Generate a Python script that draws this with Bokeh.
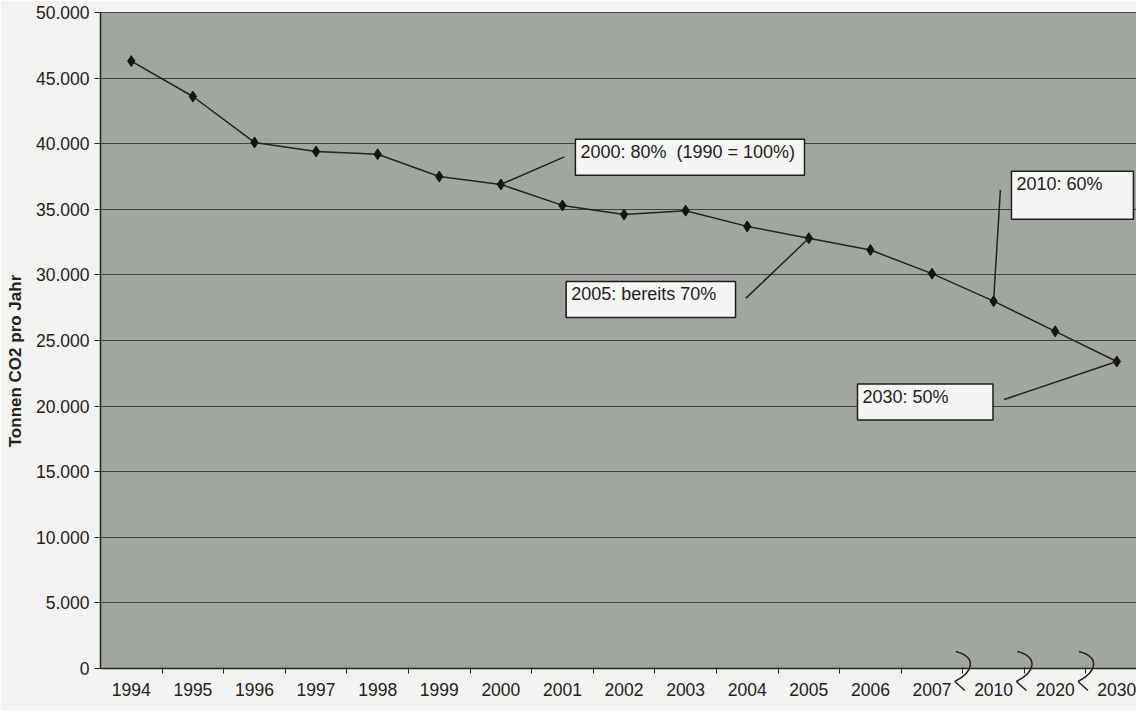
from bokeh.plotting import figure
from bokeh.models import Range1d, FixedTicker, BoxAnnotation
from bokeh.core.properties import value
from bokeh.embed import file_html
from bokeh.resources import INLINE

# ---- data ----
years = ["1994", "1995", "1996", "1997", "1998", "1999", "2000", "2001", "2002",
         "2003", "2004", "2005", "2006", "2007", "2010", "2020", "2030"]
co2 = [46300, 43600, 40100, 39400, 39200, 37500, 36900, 35300, 34600,
       34900, 33700, 32800, 31900, 30100, 28000, 25700, 23400]
y_ticks = [0, 5000, 10000, 15000, 20000, 25000, 30000, 35000, 40000, 45000, 50000]
y_tick_labels = ["0", "5.000", "10.000", "15.000", "20.000", "25.000", "30.000",
                 "35.000", "40.000", "45.000", "50.000"]
# axis breaks between these categories
break_after = ["2007", "2010", "2020"]

# annotations
ann_text = ["2000: 80%\u00a0 (1990 = 100%)", "2005: bereits 70%", "2010: 60%", "2030: 50%"]
ann_year = ["2000", "2005", "2010", "2030"]
ann_left = [7.21, 7.06, 14.29, 11.79]
ann_right = [10.93, 9.81, 16.27, 13.99]
ann_top = [40340, 29500, 37900, 21690]
ann_bottom = [37590, 26750, 34250, 18940]
lead_x = [7.03, 9.98, 14.11, 14.17]
lead_y = [39000, 28230, 36480, 20500]

FONT = "Liberation Sans"
W, H = 1136, 710
X0, X1 = -0.5, 16.32
Y0, Y1 = -3200, 50080

xs = list(range(len(years)))

p = figure(width=W, height=H, output_backend="svg", toolbar_location=None,
           x_range=Range1d(X0, X1), y_range=Range1d(Y0, Y1),
           min_border_left=100, min_border_right=0, min_border_top=11,
           min_border_bottom=0)
p.background_fill_color = "#f3f3f1"
p.border_fill_color = "#f3f3f1"
p.outline_line_color = None

# gray plot area (0 .. 50000)
p.add_layout(BoxAnnotation(left=X0, right=X1 + 1, bottom=0, top=50000,
                           fill_color="#a2a6a0", fill_alpha=1.0,
                           line_color=None, level="image"))

# grid
p.xgrid.visible = False
p.ygrid.ticker = FixedTicker(ticks=y_ticks)
p.ygrid.grid_line_color = "#3f4240"
p.ygrid.grid_line_width = 1

# y axis
p.yaxis.ticker = FixedTicker(ticks=y_ticks)
p.yaxis.major_label_overrides = {t: l for t, l in zip(y_ticks, y_tick_labels)}
p.yaxis.bounds = (0, 50000)
p.yaxis.axis_line_color = "#222222"
p.yaxis.axis_line_width = 1.5
p.yaxis.major_tick_out = 6
p.yaxis.major_tick_in = 0
p.yaxis.minor_tick_line_color = None
p.yaxis.major_tick_line_color = "#222222"
p.yaxis.major_label_text_font = FONT
p.yaxis.major_label_text_font_size = "17.5px"
p.yaxis.major_label_text_color = "#222222"
p.yaxis.major_label_standoff = 5
p.yaxis.axis_label = "Tonnen CO2 pro Jahr"
p.yaxis.axis_label_text_font = FONT
p.yaxis.axis_label_text_font_size = "17px"
p.yaxis.axis_label_text_font_style = "bold"
p.yaxis.axis_label_text_color = "#222222"
p.yaxis.axis_label_standoff = 8

# x axis at y = 0
p.xaxis.fixed_location = 0
p.xaxis.ticker = FixedTicker(ticks=xs, minor_ticks=[i + 0.5 for i in xs[:-1]])
p.xaxis.major_label_overrides = {i: y for i, y in zip(xs, years)}
p.xaxis.axis_line_color = "#222222"
p.xaxis.axis_line_width = 1.5
p.xaxis.major_tick_out = 0
p.xaxis.major_tick_in = 0
p.xaxis.minor_tick_out = 5
p.xaxis.minor_tick_in = 1
p.xaxis.minor_tick_line_color = "#222222"
p.xaxis.major_label_text_font = FONT
p.xaxis.major_label_text_font_size = "17.5px"
p.xaxis.major_label_text_color = "#222222"
p.xaxis.major_label_standoff = 9

# data line + markers
p.line(xs, co2, line_color="#222222", line_width=1.5)
p.scatter(xs, co2, marker="diamond", size=11, fill_color="#151515",
          line_color="#151515")

# leader lines
tx = [years.index(y) for y in ann_year]
ty = [co2[i] for i in tx]
p.segment(x0=lead_x, y0=lead_y, x1=tx, y1=ty, line_color="#222222", line_width=1.5)

# annotation boxes
p.quad(left=ann_left, right=ann_right, top=ann_top, bottom=ann_bottom,
       fill_color="#f5f5f3", line_color="#1e1e1e", line_width=1.5)
p.text(x=ann_left, y=ann_top, text=ann_text, x_offset=5, y_offset=3,
       text_font=value(FONT), text_font_size="18px", text_color="#1e1e1e",
       text_baseline="top", text_align="left")

# axis break squiggles (shape in screen pixels, converted to data units)
fw = W - 100
fh = H - 11
kx = fw / (X1 - X0)
ky = fh / (Y1 - Y0)
def dx(px):
    return px / kx
def dy(px):
    return -px / ky
bx = [years.index(b) + 0.5 for b in break_after]
n = len(bx)
p.bezier(x0=[b + dx(-7) for b in bx], y0=[dy(-17)] * n,
         cx0=[b + dx(15) for b in bx], cy0=[dy(-11)] * n,
         cx1=[b + dx(10) for b in bx], cy1=[dy(4)] * n,
         x1=[b + dx(-8) for b in bx], y1=[dy(13)] * n,
         line_color="#222222", line_width=1.5)
p.segment(x0=[b + dx(-8) for b in bx], y0=[dy(13)] * n,
          x1=[b + dx(2) for b in bx], y1=[dy(22)] * n,
          line_color="#222222", line_width=1.5)

open("out.html", "w").write(file_html(p, INLINE))
